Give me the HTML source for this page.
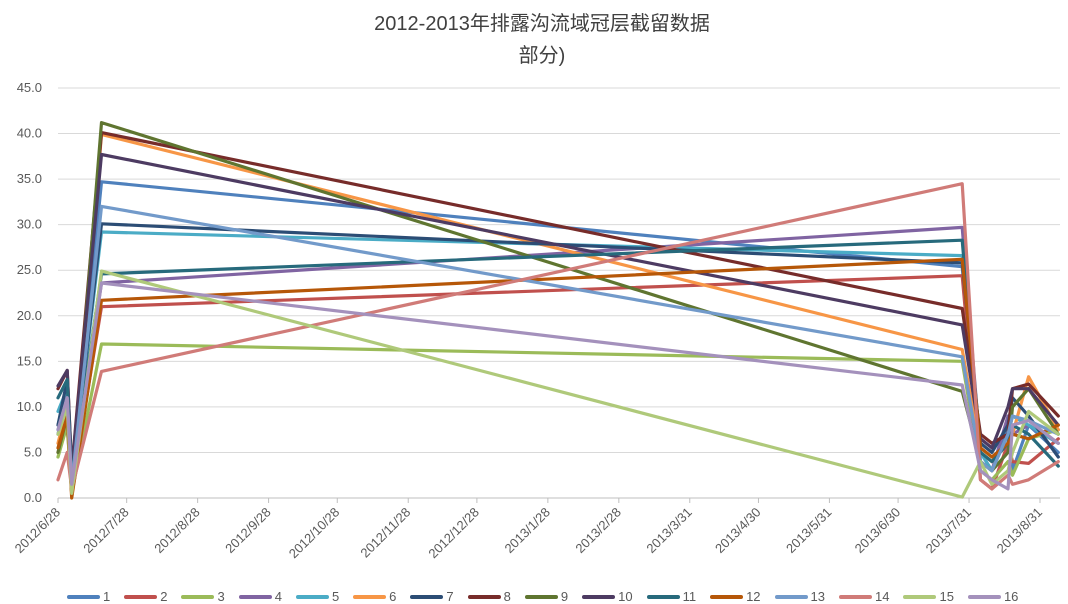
<!DOCTYPE html>
<html><head><meta charset="utf-8">
<style>
body{margin:0;background:#fff;width:1068px;height:602px;overflow:hidden;font-family:"Liberation Sans","Noto Sans CJK SC",sans-serif;}
#legend{position:absolute;left:67px;top:589px;display:flex;align-items:center;font-size:13px;color:#595959;white-space:nowrap;}
.le{display:flex;align-items:center;margin-right:14px;}
.ll{width:33px;height:4px;margin-right:3px;border-radius:2px;}
</style></head>
<body>
<svg id="chart" width="1068" height="602" style="position:absolute;left:0;top:0">
<text x="542" y="30" text-anchor="middle" font-size="20" fill="#404040" font-family="Liberation Sans, Noto Sans CJK SC, sans-serif">2012-2013年排露沟流域冠层截留数据</text>
<text x="542" y="62" text-anchor="middle" font-size="20" fill="#404040" font-family="Liberation Sans, Noto Sans CJK SC, sans-serif">部分)</text>
<g id="grid"></g><g id="xaxis"></g><g id="series"></g>
</svg>
<div id="legend"></div>
<script>
const yTicks=[0,5,10,15,20,25,30,35,40,45];
const xTickLabels=["2012/6/28","2012/7/28","2012/8/28","2012/9/28","2012/10/28","2012/11/28","2012/12/28","2013/1/28","2013/2/28","2013/3/31","2013/4/30","2013/5/31","2013/6/30","2013/7/31","2013/8/31"];
const xTickDays=[0,30,61,92,122,153,183,214,245,276,306,337,367,398,429];
const pointDays=[0,4,6,19,395,403,408,415,417,424,437];
const seriesNames=["1","2","3","4","5","6","7","8","9","10","11","12","13","14","15","16"];
const colors=["#4f81bd","#c0504d","#9bbb59","#8064a2","#4bacc6","#f79646","#2c4d75","#772c2a","#5f7530","#4d3b62","#276a7c","#b65708","#729aca","#d07b78","#afc97a","#a491bc"];
const s1=[7,12,2,34.7,25.4,4,3,8,3,8,5];
const s2=[5,8,1,21.0,24.4,2,1,6,4,3.8,6.5];
const s3=[4.5,8,0.5,16.9,15.0,3,2,4,2.5,6.5,7.5];
const s4=[8,12,2,23.6,29.7,5,3,9,7,8,6];
const s5=[9.5,12,2,29.2,26.6,5,3,7,9,8,6];
const s6=[6,10,1,39.9,16.3,5,4,6,7,13.3,7.5];
const s7=[8,13,2,30.1,25.8,6,5,8,11,9,4.5];
const s8=[12,14,3,40.1,20.8,7,6,7,12,12.5,9];
const s9=[5,9,0.5,41.2,11.7,4,3,5,10,12,7];
const s10=[12.3,14,3,37.7,19.0,6.5,5.5,10,12,12,8];
const s11=[11,13,2,24.6,28.3,5,4,6,8,7,3.5];
const s12=[5.5,9,0,21.7,26.2,5.5,4.5,6,7,6.5,8];
const s13=[7.5,11,1.5,32.0,15.5,4,3,7,9,8.5,7];
const s14=[2,5,1,13.9,34.5,2,1,2.5,1.5,2,4];
const s15=[7,10,0.5,24.9,0.1,4,1.5,3,5,9.5,7];
const s16=[7.5,11,1.5,23.6,12.4,3,2,1,8,8.5,6];
const allSeries=[s1,s2,s3,s4,s5,s6,s7,s8,s9,s10,s11,s12,s13,s14,s15,s16];

const NS="http://www.w3.org/2000/svg";
const X0=58,PX_PER_DAY=982/429,Y0=498,PX_PER_UNIT=410/45,XR=1060;
const xs=d=>X0+d*PX_PER_DAY;
const ys=v=>Y0-v*PX_PER_UNIT;
function mk(tag,attrs,parent){const e=document.createElementNS(NS,tag);for(const k in attrs)e.setAttribute(k,attrs[k]);parent.appendChild(e);return e;}
const grid=document.getElementById('grid');
yTicks.forEach(v=>{
  const l=mk('line',{x1:X0,x2:XR,y1:ys(v),y2:ys(v),stroke:v===0?'#bfbfbf':'#d9d9d9','stroke-width':1},grid);
  
  
  const t=mk('text',{x:42,y:ys(v)+4,'text-anchor':'end','font-size':13,fill:'#595959'},grid);
  
  
  t.textContent=v.toFixed(1);
});
const xa=document.getElementById('xaxis');
xTickDays.forEach((d,i)=>{
  const x=xs(d);
  const tk=mk('line',{x1:x,x2:x,y1:Y0,y2:Y0+5,stroke:'#bfbfbf'},xa);
  
  
  const t=mk('text',{x:x+3,y:Y0+15,'text-anchor':'end','font-size':13,fill:'#595959',transform:`rotate(-45 ${x+3} ${Y0+15})`},xa);
  
  
  t.textContent=xTickLabels[i];
});
const sg=document.getElementById('series');
const lg=document.getElementById('legend');
allSeries.forEach((s,i)=>{
  const pts=s.map((v,j)=>xs(pointDays[j]).toFixed(1)+','+ys(v).toFixed(1)).join(' ');
  const p=mk('polyline',{points:pts,fill:'none',stroke:colors[i],'stroke-width':3.2,'stroke-linejoin':'round','stroke-linecap':'round'},sg);
  
  
  const e=document.createElement('div');e.className='le';
  
  
  e.innerHTML=`<div class="ll" style="background:${colors[i]}"></div><span>${seriesNames[i]}</span>`;
  lg.appendChild(e);
});
</script>
</body></html>
